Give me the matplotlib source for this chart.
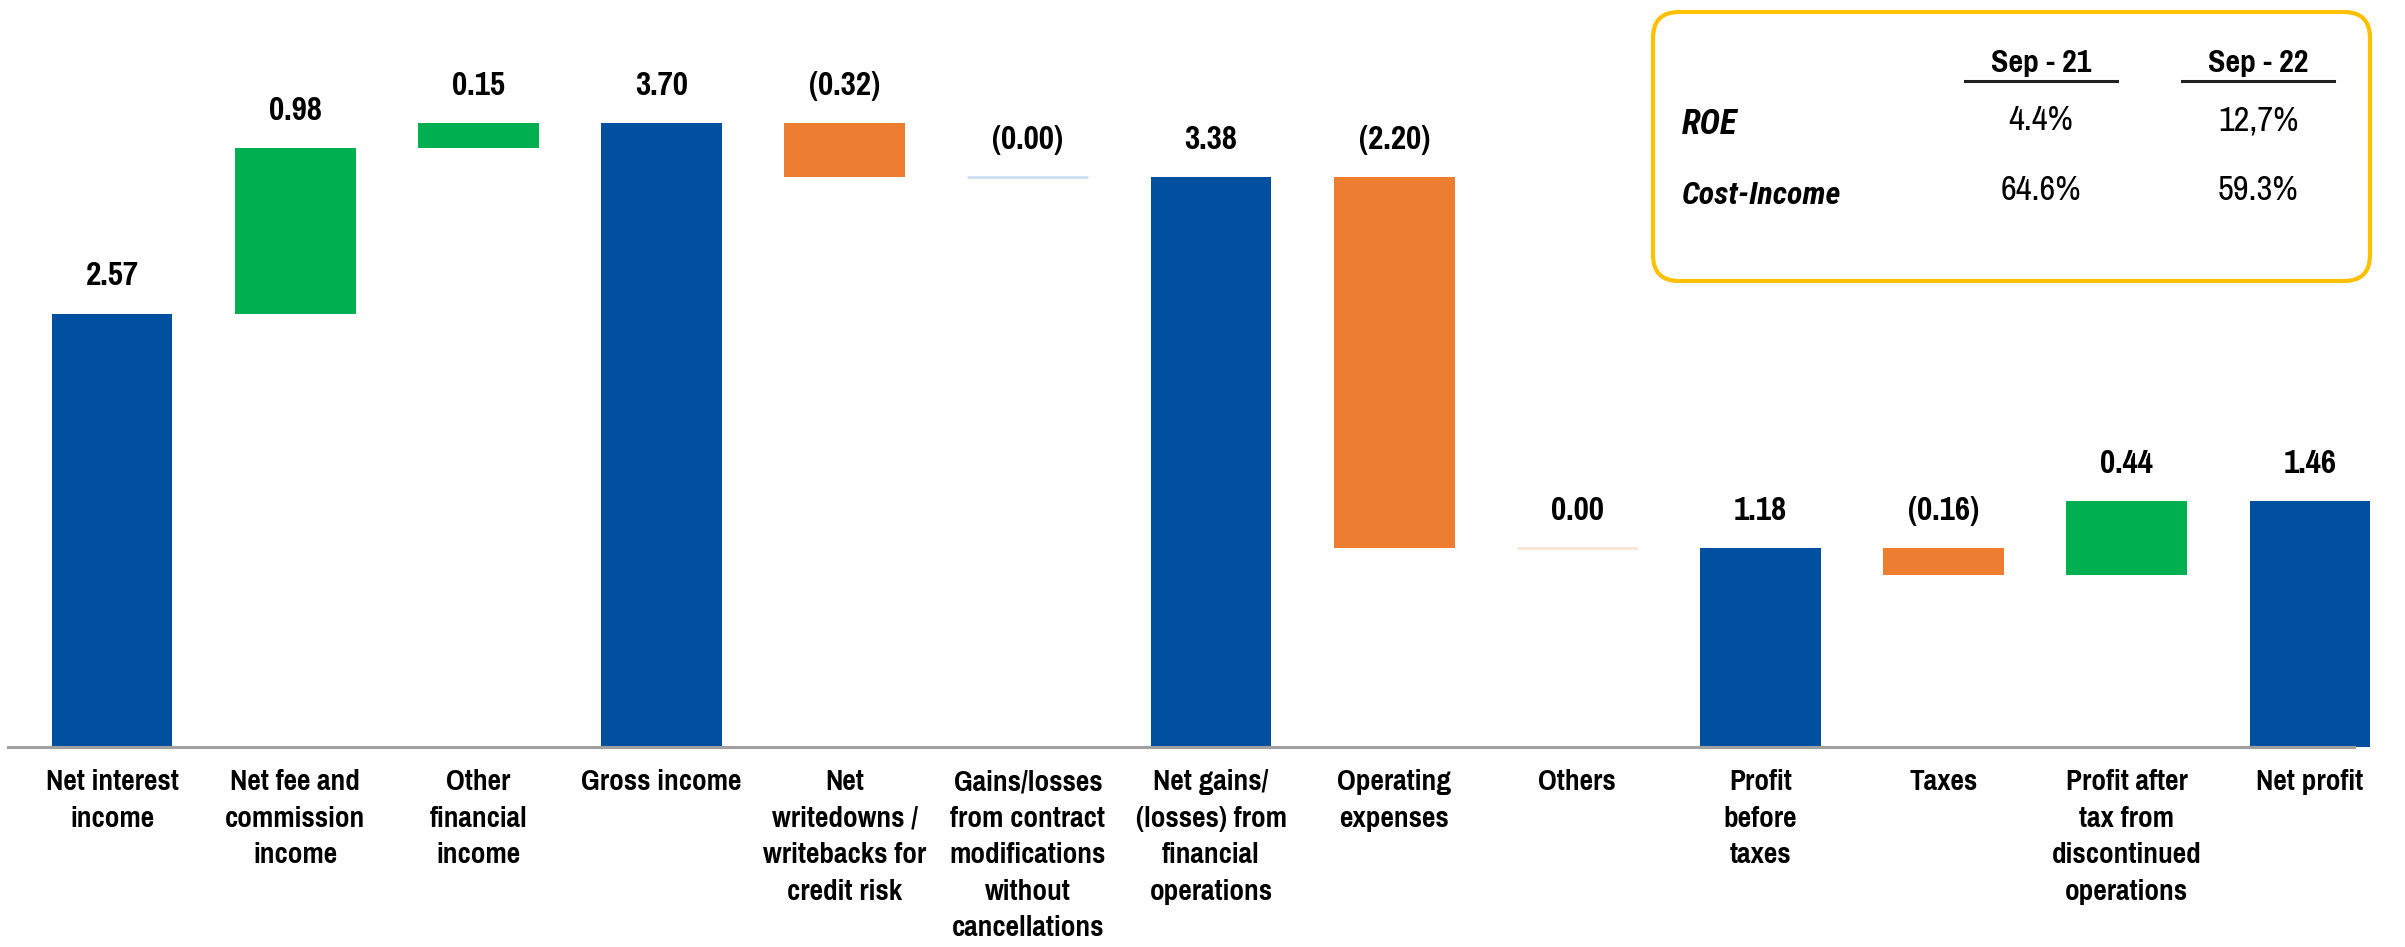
import matplotlib
matplotlib.use('Agg')
import matplotlib.pyplot as plt
from matplotlib import font_manager as fm
from matplotlib.patches import FancyBboxPatch

# ---- data ----
categories = ['Net interest\nincome', 'Net fee and\ncommission\nincome', 'Other\nfinancial\nincome',
              'Gross income', 'Net\nwritedowns /\nwritebacks for\ncredit risk',
              'Gains/losses\nfrom contract\nmodifications\nwithout\ncancellations',
              'Net gains/\n(losses) from\nfinancial\noperations', 'Operating\nexpenses', 'Others',
              'Profit\nbefore\ntaxes', 'Taxes', 'Profit after\ntax from\ndiscontinued\noperations',
              'Net profit']
values = [2.57, 0.98, 0.15, 3.70, -0.32, -0.00, 3.38, -2.20, 0.00, 1.18, -0.16, 0.44, 1.46]
is_total = [True, False, False, True, False, False, True, False, False, True, False, False, True]
value_labels = ['2.57', '0.98', '0.15', '3.70', '(0.32)', '(0.00)', '3.38', '(2.20)',
                '0.00', '1.18', '(0.16)', '0.44', '1.46']

kpi_periods = ['Sep - 21', 'Sep - 22']
kpi_names = ['ROE', 'Cost-Income']
kpi_values = [['4.4%', '12,7%'], ['64.6%', '59.3%']]

BLUE = '#01509F'
GREEN = '#00B050'
ORANGE = '#ED7D31'
ZERO_UP = '#FBE3D4'
ZERO_DOWN = '#C9DDF2'

# pick an Arial-Narrow-like family if one is around
narrow_pref = ['Liberation Sans Narrow', 'Arial Narrow', 'Pragati Narrow', 'Archivo Narrow',
               'PT Sans Narrow', 'Roboto Condensed', 'IBM Plex Sans Condensed',
               'Open Sans Condensed']
fonts = fm.fontManager.ttflist
installed = set(f.name for f in fonts)
italic_ok = set(f.name for f in fonts if f.style == 'italic' and f.weight >= 600)
NARROW = [n for n in narrow_pref if n in installed][:1] + ['Liberation Sans', 'DejaVu Sans']
NARROW_IT = [n for n in narrow_pref if n in italic_ok][:1] + ['Liberation Sans', 'DejaVu Sans']

W, H = 2405, 947
fig = plt.figure(figsize=(W / 100, H / 100), dpi=100)
ax = fig.add_axes([0, 0, 1, 1])

# waterfall geometry from the data
bottoms, heights, colors = [], [], []
running = 0.0
for v, tot in zip(values, is_total):
    if tot:
        running = v
        bottoms.append(0)
        heights.append(v)
        colors.append(BLUE)
    else:
        start = running
        running = running + v
        bottoms.append(min(start, running))
        heights.append(abs(v))
        colors.append(GREEN if v >= 0 else ORANGE)

x = list(range(len(values)))
bw = 0.66
ax.bar(x, heights, bottom=bottoms, width=bw, color=colors, linewidth=0)

# zero movements drawn as thin lines
for i, v in enumerate(values):
    if not is_total[i] and abs(v) < 0.005:
        c = ZERO_DOWN if value_labels[i].startswith('(') else ZERO_UP
        ax.hlines(bottoms[i], i - bw / 2, i + bw / 2, colors=c, linewidth=1.8)

# value labels
for i, lab in enumerate(value_labels):
    top = bottoms[i] + heights[i]
    ax.annotate(lab, (i, top), xytext=(0, 16), textcoords='offset points',
                ha='center', va='bottom', fontsize=26, fontweight='bold', family=NARROW)

# category labels
for i, cat in enumerate(categories):
    ax.annotate(cat, (i, 0), xytext=(0, -16), textcoords='offset points',
                ha='center', va='top', fontsize=23, fontweight='bold', family=NARROW,
                linespacing=1.5)

ax.axhline(0, xmin=8 / W, xmax=2354 / W, color='#A0A0A0', linewidth=2.2, zorder=3)

px = 183.17
ax.set_xlim(-112 / px, (W - 112) / px)
ax.set_ylim((747 - H) / 168.6, 747 / 168.6)
ax.axis('off')

# KPI box in pixel coordinates
ov = fig.add_axes([0, 0, 1, 1], facecolor='none')
ov.set_xlim(0, W)
ov.set_ylim(H, 0)
ov.axis('off')
box = FancyBboxPatch((1653, 12), 2370 - 1653, 281 - 12,
                     boxstyle='round,pad=0,rounding_size=26',
                     edgecolor='#FFC000', facecolor='none', linewidth=3)
ov.add_patch(box)

col_x = [2041, 2258]
col_half = 76
for cx, per in zip(col_x, kpi_periods):
    ov.text(cx, 72, per, ha='center', va='baseline', fontsize=25, fontweight='bold',
            family=NARROW)
    ov.plot([cx - col_half, cx + col_half], [81, 81], color='#222222', linewidth=2.2)

row_y = [134, 204]
name_sizes = [25, 23]
for ry, name, fs, vals in zip(row_y, kpi_names, name_sizes, kpi_values):
    ov.text(1682, ry, name, ha='left', va='baseline', fontsize=fs, fontweight='bold',
            fontstyle='italic', family=NARROW_IT)
    for cx, v in zip(col_x, vals):
        ov.text(cx, ry - 4, v, ha='center', va='baseline', fontsize=27, family=NARROW)

plt.savefig('out.png', dpi=100)
